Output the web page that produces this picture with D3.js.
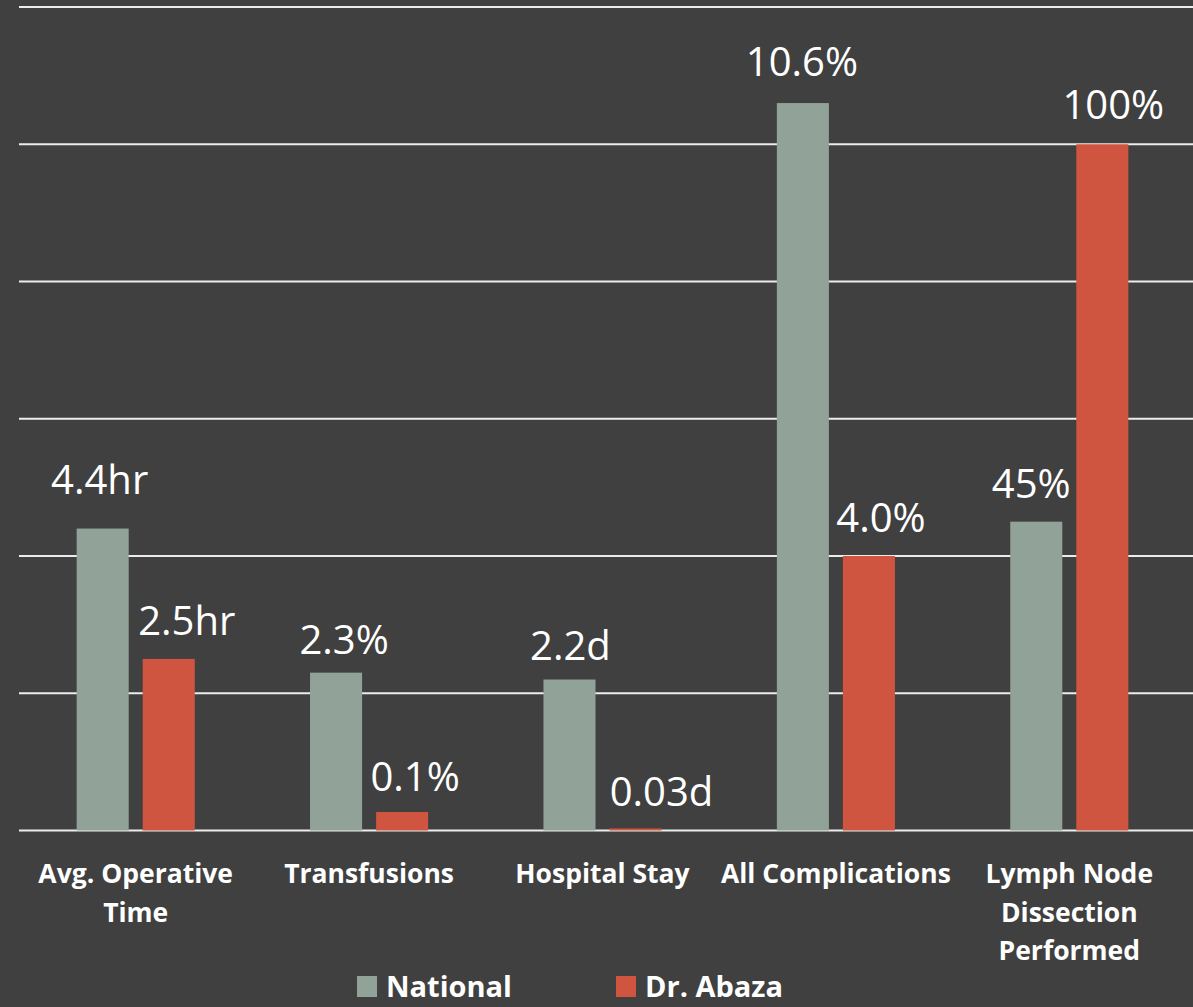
<!DOCTYPE html>
<html>
<head>
<meta charset="utf-8">
<script src="https://cdn.jsdelivr.net/npm/d3@7"></script>
<style>
  html, body { margin: 0; padding: 0; background: #404040; }
  svg { display: block; }
  text { font-family: "Open Sans", "Noto Sans", sans-serif; fill: #ffffff; }
</style>
</head>
<body>
<svg id="chart"></svg>
<script>
// data
const categories = [
  ["Avg. Operative", "Time"],
  ["Transfusions"],
  ["Hospital Stay"],
  ["All Complications"],
  ["Lymph Node", "Dissection", "Performed"]
];
const seriesNames = ["National", "Dr. Abaza"];
const nationalValues = [4.4, 2.3, 2.2, 10.6, 4.5];
const abazaValues = [2.5, 0.27, 0.03, 4.0, 10.0];
const nationalLabels = ["4.4hr", "2.3%", "2.2d", "10.6%", "45%"];
const abazaLabels = ["2.5hr", "0.1%", "0.03d", "4.0%", "100%"];
const yTicks = [0, 2, 4, 6, 8, 10, 12];

// label nudges (layout only), [dx, gap above bar]
const nationalNudge = [[-3, 35], [8, 19], [1, 20], [-1, 27], [-5, 24]];
const abazaNudge = [[18, 24], [13, 21], [26, 22], [12, 24], [11, 25]];

const colors = { "National": "#91a398", "Dr. Abaza": "#cf5540" };

const width = 1193, height = 1007;
const SVG = d3.select("#chart").attr("width", width).attr("height", height);

const x0 = d3.scaleBand()
  .domain(d3.range(categories.length))
  .range([19, 1186])
  .paddingInner(0.494)
  .paddingOuter(0.247);

const x1 = d3.scaleBand()
  .domain(seriesNames)
  .range([0, x0.bandwidth()])
  .paddingInner(0.212);

const y = d3.scaleLinear().domain([0, 12]).range([830.5, 7]);

// gridlines
SVG.append("g")
  .selectAll("line")
  .data(yTicks)
  .enter()
  .append("line")
  .attr("x1", 19)
  .attr("x2", width)
  .attr("y1", d => y(d))
  .attr("y2", d => y(d))
  .attr("stroke", "#ececec")
  .attr("stroke-width", 2);

const rows = categories.map((c, i) => ({
  i,
  bars: [
    { name: "National", value: nationalValues[i], label: nationalLabels[i], nudge: nationalNudge[i] },
    { name: "Dr. Abaza", value: abazaValues[i], label: abazaLabels[i], nudge: abazaNudge[i] }
  ]
}));

const groups = SVG.append("g")
  .selectAll("g")
  .data(rows)
  .enter()
  .append("g")
  .attr("transform", d => `translate(${x0(d.i)},0)`);

groups.selectAll("rect")
  .data(d => d.bars)
  .enter()
  .append("rect")
  .attr("x", d => x1(d.name))
  .attr("width", x1.bandwidth())
  .attr("y", d => y(d.value))
  .attr("height", d => y(0) - y(d.value))
  .attr("fill", d => colors[d.name]);

groups.selectAll("text.val")
  .data(d => d.bars)
  .enter()
  .append("text")
  .attr("class", "val")
  .attr("x", d => x1(d.name) + x1.bandwidth() / 2 + d.nudge[0])
  .attr("y", d => y(d.value) - d.nudge[1])
  .attr("text-anchor", "middle")
  .style("font-size", "40px")
  .text(d => d.label);

// category labels
const catText = SVG.append("g")
  .selectAll("text")
  .data(rows)
  .enter()
  .append("text")
  .attr("text-anchor", "middle")
  .style("font-size", "26.5px")
  .style("font-weight", "bold")
  .attr("x", d => x0(d.i) + x0.bandwidth() / 2)
  .attr("y", 883);

catText.selectAll("tspan")
  .data(d => categories[d.i])
  .enter()
  .append("tspan")
  .attr("x", function () { return d3.select(this.parentNode).attr("x"); })
  .attr("dy", (d, j) => j === 0 ? 0 : 38.5)
  .text(d => d);

// legend
const legendX = [357, 616];
const legend = SVG.append("g")
  .selectAll("g")
  .data(seriesNames)
  .enter()
  .append("g")
  .attr("transform", (d, i) => `translate(${legendX[i]},0)`);

legend.append("rect")
  .attr("x", 0)
  .attr("y", 976)
  .attr("width", 20)
  .attr("height", 21)
  .attr("fill", d => colors[d]);

legend.append("text")
  .attr("x", 29)
  .attr("y", 997)
  .style("font-size", "29px")
  .style("font-weight", "bold")
  .text(d => d);
</script>
</body>
</html>
